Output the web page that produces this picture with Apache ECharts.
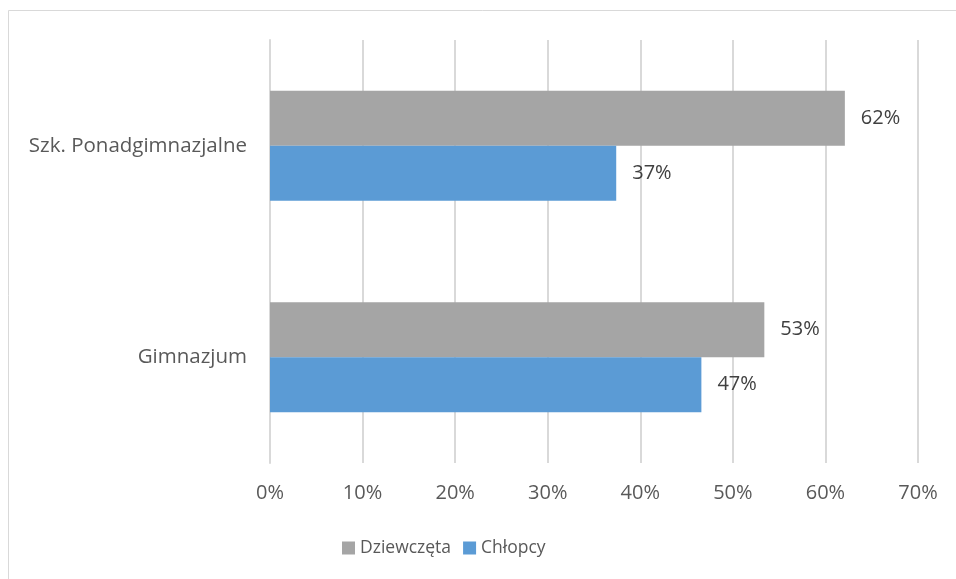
<!DOCTYPE html>
<html>
<head>
<meta charset="utf-8">
<script src="https://cdn.jsdelivr.net/npm/echarts@6/dist/echarts.min.js"></script>
<style>html,body{margin:0;padding:0;background:#fff;}#c{width:956px;height:579px;}</style>
</head>
<body>
<div id="c"></div>
<script>
const categories = ['Gimnazjum', 'Szk. Ponadgimnazjalne'];
const chlopcy = [46.6, 37.4];
const dziewczeta = [53.4, 62.1];
const xTicks = [0, 10, 20, 30, 40, 50, 60, 70];

const chart = echarts.init(document.getElementById('c'), null, {renderer: 'canvas'});
const font = '"Open Sans", "Noto Sans", sans-serif';
chart.setOption({
  animation: false,
  backgroundColor: '#fff',
  graphic: [{
    type: 'rect',
    shape: {x: 8.5, y: 10.5, width: 2000, height: 2000},
    style: {fill: 'none', stroke: '#d9d9d9', lineWidth: 1},
    silent: true, z: -1
  }],
  grid: {left: 270, right: 38, top: 40, bottom: 116, containLabel: false},
  legend: {
    data: ['Dziewczęta', 'Chłopcy'],
    bottom: 17,
    left: 337,
    icon: 'rect',
    itemWidth: 13,
    itemHeight: 13,
    itemGap: 12,
    textStyle: {fontFamily: font, fontSize: 17.5, color: '#595959'}
  },
  xAxis: {
    type: 'value',
    min: xTicks[0],
    max: xTicks[xTicks.length - 1],
    interval: 10,
    axisLine: {show: false},
    axisTick: {show: false},
    splitLine: {lineStyle: {color: '#d9d9d9', width: 2}},
    axisLabel: {
      formatter: v => v + '%',
      fontFamily: font, fontSize: 20, color: '#595959', margin: 20
    }
  },
  yAxis: {
    type: 'category',
    data: categories,
    axisLine: {show: true, lineStyle: {color: '#d9d9d9', width: 2}},
    axisTick: {show: false},
    axisLabel: {fontFamily: font, fontSize: 20.5, color: '#595959', margin: 23}
  },
  series: [
    {
      name: 'Dziewczęta', type: 'bar', data: dziewczeta,
      barWidth: 55, barGap: '0%',
      itemStyle: {color: '#a5a5a5'},
      label: {show: true, position: 'right', distance: 16, formatter: p => Math.round(p.value) + '%',
        fontFamily: font, fontSize: 20, color: '#404040'}
    },
    {
      name: 'Chłopcy', type: 'bar', data: chlopcy,
      barWidth: 55, barGap: '0%',
      itemStyle: {color: '#5b9bd5'},
      label: {show: true, position: 'right', distance: 16, formatter: p => Math.round(p.value) + '%',
        fontFamily: font, fontSize: 20, color: '#404040'}
    }
  ]
});
</script>
</body>
</html>
